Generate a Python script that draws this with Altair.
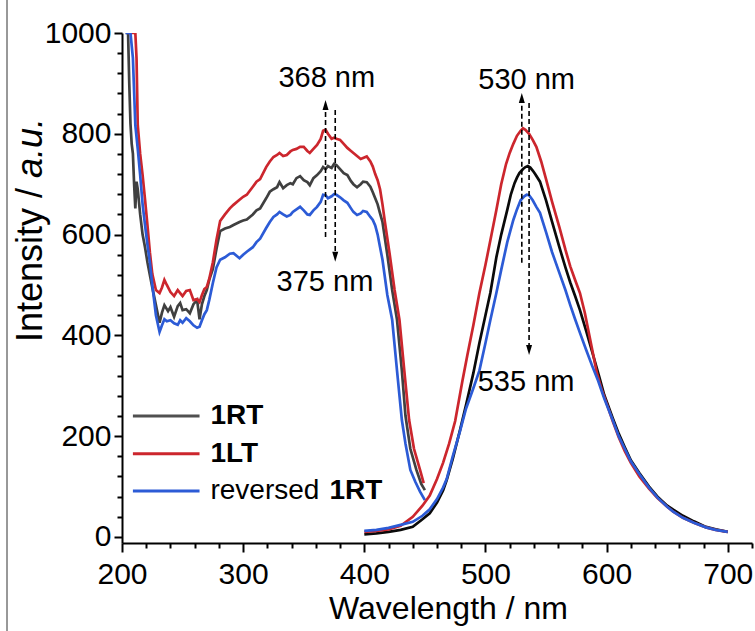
import altair as alt
import pandas as pd

# ---------------- data ----------------
ex_wl_1rt = [203, 205, 206, 207, 208, 209, 210, 211, 212, 213, 215, 217, 219, 221, 223, 225, 228, 231, 233, 235,
             238, 240, 243, 246, 248, 250, 253, 256, 259, 262, 264, 266, 268, 270, 272, 275, 278, 281, 285, 289,
             292, 297, 300, 303, 308, 311, 314, 319, 322, 325, 328, 330, 333, 336, 339, 341, 344, 347, 350, 353,
             355, 358, 361, 364, 366, 368, 370, 373, 375, 377, 380, 383, 386, 389, 391, 394, 397, 399, 402, 405,
             407, 409, 411, 413, 415, 419, 423, 427, 431, 434, 438, 443, 447, 450]
ex_int_1rt = [1000, 1000, 900, 820, 780, 760, 700, 652, 705, 690, 640, 600, 575, 545, 520, 495, 460, 425, 445, 460,
              448, 456, 437, 458, 464, 450, 452, 444, 462, 470, 432, 462, 478, 490, 510, 532, 572, 607, 612, 615,
              619, 625, 628, 630, 640, 648, 652, 672, 685, 690, 694, 704, 692, 698, 702, 700, 712, 716, 708, 704,
              698, 712, 718, 726, 734, 730, 736, 732, 740, 738, 730, 722, 718, 706, 700, 694, 700, 705, 704, 695,
              684, 672, 660, 642, 625, 560, 490, 431, 330, 240, 175, 133, 105, 93]

ex_wl_1lt = [205, 209, 211, 212, 213, 215, 217, 219, 221, 223, 225, 228, 231, 233, 235, 237, 240, 243, 246, 248,
             250, 253, 256, 259, 262, 264, 266, 268, 270, 272, 275, 278, 281, 285, 289, 292, 297, 300, 303, 308,
             311, 314, 319, 322, 325, 328, 330, 333, 336, 339, 341, 344, 347, 350, 353, 355, 358, 361, 364, 366,
             368, 370, 373, 375, 377, 380, 383, 386, 389, 391, 394, 397, 399, 402, 405, 407, 409, 411, 413, 415,
             417, 421, 425, 429, 433, 437, 441, 446, 449]
ex_int_1lt = [1000, 1000, 1000, 950, 817, 760, 718, 670, 619, 565, 522, 490, 484, 495, 510, 500, 486, 478, 490, 484,
              478, 488, 490, 470, 472, 466, 480, 492, 496, 512, 545, 590, 627, 640, 652, 659, 669, 675, 679, 695,
              705, 710, 734, 745, 754, 758, 762, 756, 758, 765, 768, 770, 774, 774, 766, 762, 770, 778, 790, 806,
              808, 800, 790, 792, 790, 788, 780, 772, 766, 762, 756, 750, 752, 755, 745, 735, 720, 708, 690, 660,
              625, 560, 490, 431, 330, 232, 175, 133, 107]

ex_wl_rev = [203, 207, 209, 211, 213, 215, 217, 219, 221, 223, 225, 228, 231, 233, 235, 237, 240, 243, 246, 248,
             250, 253, 256, 259, 262, 264, 266, 268, 270, 272, 275, 278, 281, 285, 289, 292, 297, 300, 303, 308,
             311, 314, 319, 322, 325, 328, 330, 333, 336, 339, 341, 344, 347, 350, 353, 355, 358, 361, 364, 366,
             368, 370, 373, 375, 377, 380, 383, 386, 389, 391, 394, 397, 399, 402, 405, 407, 409, 411, 413, 415,
             419, 423, 427, 431, 434, 438, 442, 446, 450]
ex_int_rev = [1000, 1000, 950, 817, 770, 718, 660, 619, 580, 545, 500, 440, 407, 420, 432, 428, 430, 424, 421, 430,
              425, 434, 428, 420, 415, 417, 430, 442, 450, 470, 504, 535, 550, 555, 562, 563, 553, 560, 566, 575,
              585, 592, 613, 625, 635, 640, 645, 640, 636, 639, 645, 650, 655, 648, 640, 639, 648, 655, 665, 679,
              678, 672, 676, 680, 679, 674, 668, 663, 652, 645, 639, 642, 647, 645, 635, 629, 618, 600, 575, 550,
              480, 431, 330, 232, 185, 133, 110, 90, 73]

em_wl_1rt = [400, 410, 420, 430, 440, 448, 454, 460, 465, 468, 473, 479, 484, 490, 495, 500, 504, 509, 513, 518,
             521, 524, 526, 528, 531, 533, 535, 537, 539, 541, 545, 550, 555, 561, 566, 570, 574, 578, 583, 588,
             594, 598, 605, 610, 615, 620, 627, 635, 642, 650, 655, 663, 672, 682, 690, 700]
em_int_1rt = [5, 7, 10, 14, 20, 35, 47, 68, 92, 113, 155, 212, 262, 325, 385, 440, 484, 555, 600, 649,
              680, 702, 713, 722, 730, 734, 736, 733, 727, 720, 705, 668, 625, 575, 535, 505, 478, 450, 410, 368,
              317, 282, 236, 205, 178, 152, 127, 100, 80, 62, 54, 42, 31, 20, 15, 10]

em_wl_1lt = [400, 410, 420, 430, 440, 448, 454, 460, 465, 470, 475, 481, 485, 490, 495, 500, 505, 509, 513, 517,
             520, 523, 526, 529, 531, 533, 536, 539, 542, 546, 550, 555, 561, 566, 570, 574, 578, 582, 587, 592,
             596, 600, 605, 610, 615, 620, 627, 635, 642, 650, 655, 663, 672, 682, 690, 700]
em_int_1lt = [10, 12, 15, 22, 40, 62, 82, 115, 147, 185, 230, 310, 360, 420, 484, 540, 600, 649, 700, 740,
              762, 780, 796, 806, 811, 808, 800, 788, 774, 745, 710, 665, 615, 570, 537, 510, 484, 445, 385, 325,
              292, 265, 230, 198, 170, 147, 120, 96, 77, 60, 50, 38, 28, 19, 14, 10]

em_wl_rev = [400, 410, 420, 430, 440, 448, 454, 460, 465, 468, 473, 479, 484, 490, 495, 500, 504, 509, 513, 518,
             523, 526, 529, 532, 534, 536, 539, 542, 545, 550, 555, 561, 566, 570, 574, 578, 583, 588, 593, 598,
             605, 610, 615, 620, 627, 635, 642, 650, 655, 663, 672, 682, 690, 700]
em_int_rev = [12, 14, 18, 24, 30, 42, 55, 75, 98, 115, 160, 210, 255, 295, 330, 385, 430, 484, 530, 585,
              629, 650, 668, 676, 679, 678, 668, 655, 643, 605, 565, 524, 490, 460, 432, 405, 372, 340, 310, 275,
              232, 200, 175, 150, 125, 98, 78, 60, 50, 38, 28, 19, 14, 10]

# peak annotations
ann_text = ["368 nm", "375 nm", "530 nm", "535 nm"]
ann_text_wl = [369, 367.5, 534, 533.5]
ann_text_I = [910, 506, 907, 308]
arrow_wl = [368, 376, 530, 536]
arrow_from = [595, 847, 544, 861]
arrow_head = [857, 556, 871, 371]
arrow_dir = ["up", "down", "up", "down"]

# legend entries
leg_names = ["1RT", "1LT", "reversed"]
leg_I = [240, 165, 91]

# ---------------- styling ----------------
FONT = "Liberation Sans"
XDOM = [200, 720]
YDOM = [-12, 1000]
C_GREY = "#404040"
C_BLACK = "#0a0a0a"
C_RED = "#cc262d"
C_BLUE = "#2c5bd6"


def X(field="wl", axis=None):
    return alt.X(f"{field}:Q", scale=alt.Scale(domain=XDOM, nice=False, zero=False), axis=axis)


def Y(field="I", axis=None):
    return alt.Y(f"{field}:Q", scale=alt.Scale(domain=YDOM, nice=False, zero=False), axis=axis)


main_x_axis = alt.Axis(
    values=list(range(200, 721, 20)), orient="bottom",
    tickSize={"condition": {"test": "datum.value % 100 === 0", "value": 9}, "value": 5},
    tickWidth=2, tickColor="black", domainColor="black", domainWidth=2,
    labelExpr="datum.value % 100 === 0 ? datum.label : ''", labelOverlap=False,
    labelFont=FONT, labelFontSize=30, labelColor="black", labelPadding=7, labelFlush=False, grid=False,
    title="Wavelength / nm", titleFont=FONT, titleFontSize=32, titleFontWeight="normal",
    titleColor="black", titlePadding=4, titleX=326)
main_y_axis = alt.Axis(
    values=list(range(0, 1001, 40)), orient="left", format="d",
    tickSize={"condition": {"test": "datum.value % 200 === 0", "value": 8}, "value": 5},
    tickWidth=2, tickColor="black", domainColor="black", domainWidth=2,
    labelExpr="datum.value % 200 === 0 ? datum.label : ''", labelOverlap=False,
    labelFont=FONT, labelFontSize=30, labelColor="black", labelPadding=3, grid=False, title=None)


def df(wl, vals):
    return pd.DataFrame({"wl": wl, "I": vals})


def line(wl, vals, color, first=False):
    return alt.Chart(df(wl, vals)).mark_line(color=color, strokeWidth=2.7, clip=True).encode(
        x=X(axis=main_x_axis if first else None),
        y=Y(axis=main_y_axis if first else None),
        order="wl:Q",
    )


layers = [
    line(ex_wl_1rt, ex_int_1rt, C_GREY, first=True),
    line(ex_wl_1lt, ex_int_1lt, C_RED),
    line(ex_wl_rev, ex_int_rev, C_BLUE),
    line(em_wl_1rt, em_int_1rt, C_BLACK),
    line(em_wl_1lt, em_int_1lt, C_RED),
    line(em_wl_rev, em_int_rev, C_BLUE),
]

# dashed arrows
arr = pd.DataFrame({"wl": arrow_wl, "I": arrow_from, "I2": arrow_head, "dir": arrow_dir})
rules = alt.Chart(arr).mark_rule(color="black", strokeWidth=1.6, strokeDash=[5, 3]).encode(
    x=X(), y=Y(), y2=alt.Y2("I2:Q"))
layers.append(rules)
up_path = "M0,-1L0.6,1L-0.6,1Z"
down_path = "M0,1L0.6,-1L-0.6,-1Z"
heads_up = alt.Chart(arr[arr["dir"] == "up"]).mark_point(
    shape=up_path, filled=True, size=100, color="black", opacity=1).encode(x=X(), y=Y("I2"))
heads_down = alt.Chart(arr[arr["dir"] == "down"]).mark_point(
    shape=down_path, filled=True, size=100, color="black", opacity=1).encode(x=X(), y=Y("I2"))
layers += [heads_up, heads_down]

ann = pd.DataFrame({"wl": ann_text_wl, "I": ann_text_I, "t": ann_text})
ann_layer = alt.Chart(ann).mark_text(font=FONT, fontSize=29, align="center", baseline="middle",
                                     color="black").encode(x=X(), y=Y(), text="t:N")
layers.append(ann_layer)

# custom legend
leg = pd.DataFrame({"name": leg_names, "I": leg_I, "x1": [209] * 3, "x2": [264] * 3, "xt": [273] * 3,
                    "col": ["#505050", C_RED, C_BLUE]})
leg_lines = alt.Chart(leg).mark_rule(strokeWidth=3).encode(
    x=X("x1"), x2="x2:Q", y=Y(), color=alt.Color("col:N", scale=None))
leg_bold = alt.Chart(leg[leg["name"] != "reversed"]).mark_text(
    font=FONT, fontSize=28, fontWeight="bold", align="left", baseline="middle", color="black").encode(
    x=X("xt"), y=Y(), text="name:N")
leg_rev = alt.Chart(leg[leg["name"] == "reversed"]).mark_text(
    font=FONT, fontSize=28, align="left", baseline="middle", color="black").encode(
    x=X("xt"), y=Y(), text="name:N")
leg_rev_b = alt.Chart(leg[leg["name"] == "reversed"]).mark_text(
    font=FONT, fontSize=28, fontWeight="bold", align="left", baseline="middle", color="black", dx=119).encode(
    x=X("xt"), y=Y(), text=alt.value("1RT"))
layers += [leg_lines, leg_bold, leg_rev, leg_rev_b]

# y-axis title with italic part
one = pd.DataFrame({"a": [0]})
yt1 = alt.Chart(one).mark_text(font=FONT, fontSize=36, angle=270, align="left", baseline="middle",
                               color="black").encode(x=alt.value(-91), y=alt.value(309),
                                                      text=alt.value("Intensity /"))
yt2 = alt.Chart(one).mark_text(font=FONT, fontSize=36, angle=270, align="left", baseline="middle",
                               fontStyle="italic", color="black").encode(
    x=alt.value(-91), y=alt.value(145), text=alt.value("a.u."))
border = alt.Chart(one).mark_rule(color="#333333", strokeWidth=1).encode(
    x=alt.value(-115), y=alt.value(-33), y2=alt.value(598))
layers += [yt1, yt2, border]

chart = alt.layer(*layers).resolve_axis(x="independent", y="independent").properties(
    width=630, height=510, autosize="none",
    padding={"left": 122, "top": 33, "right": 3, "bottom": 88},
    background="white",
).configure_view(stroke=None)

chart.save("out.html", embed_options={"renderer": "svg", "actions": False})
